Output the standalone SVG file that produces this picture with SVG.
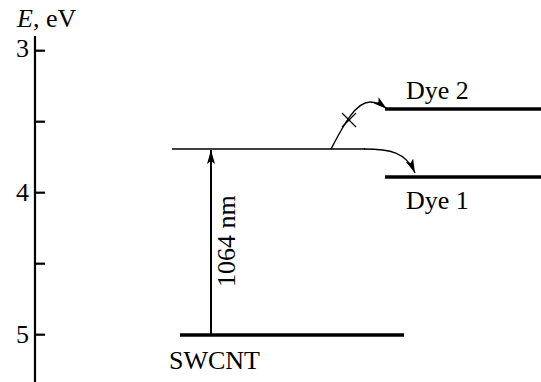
<svg xmlns="http://www.w3.org/2000/svg" width="541" height="382" viewBox="0 0 541 382">
<style>
text{font-family:"Liberation Serif","Times New Roman",serif;font-size:26px;fill:#000}
.ax{stroke:#000;stroke-width:2.2;fill:none}
.lvl{stroke:#000;stroke-width:3.4;fill:none}
.thin{stroke:#000;stroke-width:1.3;fill:none}
</style>
<defs>
<marker id="ah" viewBox="0 0 14 8" refX="14" refY="4" markerWidth="14" markerHeight="8" markerUnits="userSpaceOnUse" orient="auto">
<path d="M0,0 L14,4 L0,8 L3,4 Z" fill="#000"/>
</marker>
</defs>
<g id="axis">
<line class="ax" x1="35" y1="36" x2="35" y2="382"/>
<line class="ax" x1="35" y1="50.7" x2="45" y2="50.7"/>
<line class="ax" x1="35" y1="121.7" x2="45" y2="121.7"/>
<line class="ax" x1="35" y1="192.7" x2="45" y2="192.7"/>
<line class="ax" x1="35" y1="263.7" x2="45" y2="263.7"/>
<line class="ax" x1="35" y1="334.7" x2="45" y2="334.7"/>
<text x="17" y="27"><tspan font-style="italic">E</tspan>, eV</text>
<text x="29" y="57" text-anchor="end">3</text>
<text x="29" y="201" text-anchor="end">4</text>
<text x="29" y="343" text-anchor="end">5</text>
</g>
<g id="swcnt">
<line class="lvl" x1="180" y1="335" x2="404" y2="335"/>
<text x="169" y="369">SWCNT</text>
</g>
<g id="dye2">
<line class="lvl" x1="385" y1="109" x2="541" y2="109"/>
<text x="406" y="99">Dye 2</text>
</g>
<g id="dye1">
<line class="lvl" x1="385" y1="177" x2="541" y2="177"/>
<text x="406" y="209">Dye 1</text>
</g>
<g id="excited">
<line class="thin" x1="172" y1="149" x2="365" y2="149"/>
</g>
<g id="connectors">
<line x1="211" y1="335" x2="211" y2="150" stroke="#000" stroke-width="2" marker-end="url(#ah)"/>
<text transform="translate(235,287) rotate(-90)">1064 nm</text>
<path class="thin" d="M364,149 C390,149 406,152 415,173" marker-end="url(#ah)"/>
<path class="thin" d="M331,149 C342,128 355,102 370,102 C377,102 382,105 387,109" marker-end="url(#ah)"/>
<line class="thin" x1="342" y1="113" x2="356" y2="127"/>
<line class="thin" x1="342" y1="127" x2="356" y2="113"/>
</g>
</svg>
